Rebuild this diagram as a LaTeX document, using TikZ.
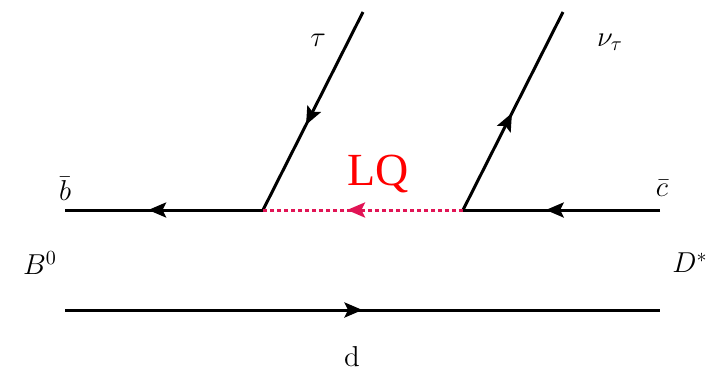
\documentclass[tikz,border=0pt]{standalone}
\usepackage{fontspec}
\newfontfamily\lqfont{Liberation Serif}
\usetikzlibrary{arrows.meta,decorations.markings}
\definecolor{lqline}{RGB}{225,20,85}
\tikzset{
  fermion/.style={line width=1.5pt, postaction={decorate},
    decoration={markings, mark=at position #1 with {\arrow{Stealth[length=9pt,width=7.5pt,inset=1.8pt]}}}},
  lq/.style={line width=1.5pt, lqline, dash pattern=on 2pt off 1.5pt, postaction={decorate},
    decoration={markings, mark=at position #1 with {\arrow{Stealth[length=9pt,width=7.5pt,inset=1.8pt]}}}},
  lbl/.style={font=\Large, inner sep=0pt},
}
\begin{document}
\begin{tikzpicture}[x=0.5pt,y=-0.5pt]
\useasboundingbox (0,0) rectangle (708,370);
\coordinate (b) at (65,210);
\coordinate (v1) at (263,210);
\coordinate (v2) at (463,210);
\coordinate (c) at (660,210);
\coordinate (tauend) at (363,12);
\coordinate (nuend) at (563,12);
\coordinate (dl) at (65,310);
\coordinate (dr) at (660,310);
\draw[fermion=0.58] (v1) -- (b);
\draw[fermion=0.58] (c) -- (v2);
\draw[fermion=0.57] (tauend) -- (v1);
\draw[fermion=0.49] (v2) -- (nuend);
\draw[lq=0.58] (v2) -- (v1);
\draw[fermion=0.5] (dl) -- (dr);
\node[lbl] (tau) at (318,40) {$\tau$};
\node[lbl] (nu) at (610,42) {$\nu_\tau$};
\node[lbl] (bbar) at (65,189) {$\bar b$};
\node[lbl] (cbar) at (662,188) {$\bar c$};
\node[lbl] (B) at (40,263) {$B^0$};
\node[lbl] (D) at (690,263) {$D^*$};
\node[lbl] (d) at (352,357) {d};
\node[font=\fontsize{23}{26}\lqfont, text=red, inner sep=0pt] (LQ) at (378,174) {LQ};
\end{tikzpicture}
\end{document}
